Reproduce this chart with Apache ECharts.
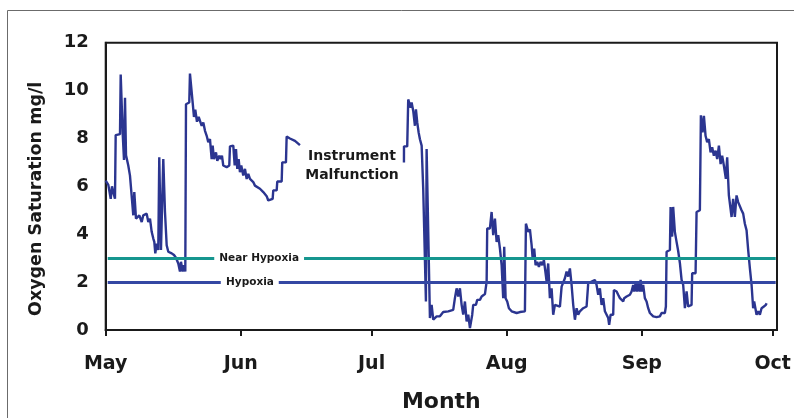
<!DOCTYPE html>
<html>
<head>
<meta charset="utf-8">
<script src="https://cdn.jsdelivr.net/npm/echarts@6/dist/echarts.min.js"></script>
<style>
html,body{margin:0;padding:0;background:#fff;}
#chart{width:794px;height:418px;}
</style>
</head>
<body>
<div id="chart"></div>
<script>
// Days since May 1 (null = gap, instrument malfunction)
const days = [
0,0.6,1.15,1.44,1.74,2.13,2.29,3.28,3.44,3.9,4.2,4.43,4.66,5.18,5.57,5.96,6.33,6.56,6.95,7.34,7.71,8.26,8.62,9.4,9.77,10.16,10.55,10.92,11.15,11.38,11.7,12.06,12.29,12.68,13.21,13.6,13.99,14.36,15.14,15.67,16.12,16.65,17.04,17.27,17.66,17.96,18.26,18.42,19.17,19.33,19.95,20.25,20.55,20.94,21.33,
21.63,22.02,22.39,22.78,23.17,23.53,23.92,24.31,24.54,24.84,25.3,25.6,26.06,26.38,26.67,26.97,27.36,27.75,28.35,28.51,29.27,29.59,29.89,30.18,30.5,30.8,31.1,31.56,31.95,32.34,32.71,33.1,33.85,34.24,34.63,35.39,36.15,36.93,37.29,37.68,38.3,38.44,39.22,39.36,40.37,40.5,41.35,41.51,42.27,42.66,43.42,44.56,
45,
68.42,68.43,69.17,69.4,69.63,69.95,70.18,70.55,70.94,71.17,71.47,71.79,72.09,72.48,72.84,73.46,73.62,74.38,74.77,75.14,75.92,76.28,76.67,77.06,77.43,78.58,78.97,79.72,80.11,80.5,80.87,81.26,81.65,82.02,82.41,82.8,83.17,83.56,83.78,84.08,84.31,84.93,85.23,85.85,86.24,87.0,87.39,87.52,88.14,88.53,88.9,89.29,89.68,90.05,90.44,90.83,91.19,91.42,91.74,92.11,92.5,93.12,94.27,95.02,96.17,96.4,96.93,97.32,97.71,97.94,98.3,98.62,98.99,99.38,99.77,100.14,100.53,101.15,101.51,101.9,102.29,102.66,103.05,103.44,104.2,104.59,104.95,105.34,105.73,106.1,106.49,106.88,107.25,107.64,108.03,108.39,108.78,109.54,110.32,110.69,111.47,112.22,112.61,112.98,113.37,113.76,114.13,114.52,114.91,115.28,115.5,115.83,116.42,116.58,117.2,117.57,117.96,118.35,118.72,118.94,119.5,119.86,120.25,120.64,121.01,121.24,121.56,121.86,122.16,122.48,122.71,123.01,123.3,123.69,124.08,124.45,124.84,125.6,126.38,127.13,127.52,128.28,128.51,128.67,129.04,129.43,129.59,129.95,130.18,130.57,130.96,131.33,131.72,132.11,132.48,132.87,133.26,133.62,134.4,134.54,135.32,135.55,136.31,136.54,136.93,137.23,137.61,137.98,138.37,138.76,139.13,139.52,139.91,140.28,140.67,141.06,141.42,141.81,142.27,142.57,142.96,143.35,143.58,143.94,144.33,144.72,145.09,145.48,145.87,146.24,146.63,147.02,147.39,147.78,148.17,148.53,148.76,149.31,149.68,150.07,150.46,150.99,151.45,151.61
];
// Dissolved oxygen, mg/l
const oxygen = [
6.24,6.06,5.48,6.0,5.76,5.48,8.14,8.18,10.67,8.2,7.1,9.7,7.3,6.87,6.45,6.52,4.79,5.76,4.65,4.58,4.79,4.51,4.79,4.86,4.51,4.65,4.1,3.82,3.68,3.2,3.61,3.34,7.21,3.34,7.14,4.93,3.54,3.27,3.2,3.13,3.02,2.78,2.44,2.85,2.44,2.71,2.44,9.43,9.5,10.71,9.5,8.9,9.2,8.7,8.9,
8.87,8.53,8.67,8.32,8.11,7.84,7.97,7.14,7.7,7.14,7.42,7.07,7.28,7.14,7.28,6.87,6.93,6.8,6.87,7.67,7.7,6.87,7.56,6.73,7.14,6.59,6.87,6.45,6.73,6.31,6.52,6.31,6.18,6.03,6.1,5.9,5.76,5.59,5.41,5.48,5.48,5.83,5.83,6.2,6.2,7.0,7.0,8.08,8.0,8.08,7.9,7.72,
null,
7.0,7.67,7.67,9.63,9.63,9.29,9.5,9.15,8.53,9.22,8.67,8.25,7.97,7.7,5.9,1.19,7.56,0.5,1.05,0.43,0.57,0.5,0.57,0.5,0.75,0.78,0.84,0.84,1.33,1.74,1.4,1.74,1.05,0.64,1.19,0.36,0.64,0.08,0.08,0.64,1.05,1.05,1.26,1.26,1.4,1.5,2.02,4.24,4.24,4.93,3.96,4.65,3.68,3.96,3.4,2.71,1.33,3.48,1.33,1.19,0.91,0.78,0.71,0.75,0.78,4.44,4.1,4.2,3.54,2.99,3.4,2.71,2.85,2.64,2.85,2.71,2.92,2.02,2.78,1.33,1.74,0.64,1.05,0.98,0.98,1.81,1.81,2.16,2.44,2.23,2.57,1.88,1.05,0.43,0.91,0.64,0.78,0.91,0.98,1.95,2.02,2.09,1.88,1.47,1.74,1.05,1.33,0.78,0.84,0.5,0.22,0.64,0.64,1.67,1.61,1.47,1.33,1.33,1.19,1.33,1.4,1.47,1.47,1.61,1.88,1.61,1.95,1.61,1.95,1.61,2.09,1.61,1.88,1.33,1.19,0.91,0.71,0.57,0.54,0.57,0.71,0.71,0.98,3.27,3.34,3.34,5.14,3.9,5.14,4.1,3.68,3.3,2.8,2.09,1.88,0.91,1.61,0.98,1.05,2.37,2.37,4.93,5.0,8.97,8.25,8.94,8.11,7.84,7.97,7.42,7.63,7.28,7.49,7.14,7.7,6.93,7.28,6.87,6.31,7.21,5.62,5.55,4.72,5.48,4.72,5.62,5.34,5.27,5.0,4.86,4.44,4.16,3.34,2.57,1.88,0.91,1.19,0.64,0.78,0.64,0.91,0.98,1.05,1.12
];
const monthTicks = [0, 31, 61, 92, 123, 153];
const monthLabels = ['May', 'Jun', 'Jul', 'Aug', 'Sep', 'Oct'];
const hypoxiaLevel = 2;
const nearHypoxiaLevel = 3;
// Reference line segments (day ranges) and label anchor days
const nearHypoxiaSegments = [[0.46, 24.9], [45.5, 153.7]];
const hypoxiaSegments = [[0.46, 26.4], [39.7, 153.7]];
const nearHypoxiaLabelDay = 35.2;
const hypoxiaLabelDay = 33.1;
const malfunctionLabel = { day: 56.5, value: 6.85, text: 'Instrument\nMalfunction' };

const seriesData = days.map((d, i) => [d, oxygen[i] === null ? '-' : oxygen[i]]);
const FONT = '"DejaVu Sans", Verdana, sans-serif';

const chart = echarts.init(document.getElementById('chart'), null, { renderer: 'canvas' });
chart.setOption({
  animation: false,
  backgroundColor: '#ffffff',
  graphic: [{
    type: 'rect', silent: true,
    shape: { x: 7.5, y: 10.5, width: 800, height: 420 },
    style: { fill: 'none', stroke: '#6b6b6b', lineWidth: 1 }
  }],
  grid: { left: 105.7, right: 17, top: 42.7, bottom: 86, show: true, borderColor: '#1a1a1a', borderWidth: 2, backgroundColor: 'transparent' },
  xAxis: {
    type: 'value', min: 0, max: 154,
    name: 'Month', nameLocation: 'middle', nameGap: 61,
    nameTextStyle: { fontFamily: FONT, fontWeight: 'bold', fontSize: 22, color: '#1a1a1a' },
    axisLine: { show: true, lineStyle: { color: '#1a1a1a', width: 2 } },
    axisTick: { show: true, customValues: monthTicks, length: 6, lineStyle: { color: '#1a1a1a', width: 2 } },
    axisLabel: {
      customValues: monthTicks, margin: 25,
      fontFamily: FONT, fontWeight: 'bold', fontSize: 19, color: '#1a1a1a',
      formatter: v => monthLabels[monthTicks.indexOf(Math.round(v))] || ''
    },
    splitLine: { show: false }
  },
  yAxis: {
    type: 'value', min: 0, max: 12, interval: 2,
    name: 'Oxygen Saturation mg/l', nameLocation: 'middle', nameGap: 60,
    nameTextStyle: { fontFamily: FONT, fontWeight: 'bold', fontSize: 17.5, color: '#1a1a1a', padding: [0, 25, 0, 0] },
    axisLine: { show: true, lineStyle: { color: '#1a1a1a', width: 2 } },
    axisTick: { show: false },
    axisLabel: { margin: 17, fontFamily: FONT, fontWeight: 'bold', fontSize: 18, color: '#1a1a1a' },
    splitLine: { show: false }
  },
  series: [{
    type: 'line',
    data: seriesData,
    showSymbol: false,
    connectNulls: false,
    lineStyle: { color: '#2b3590', width: 2.4 },
    z: 3,
    markLine: {
      silent: true, symbol: 'none', animation: false,
      label: { show: false },
      data: [
        ...nearHypoxiaSegments.map(s => [
          { coord: [s[0], nearHypoxiaLevel], lineStyle: { color: '#16968f', width: 3, type: 'solid' } },
          { coord: [s[1], nearHypoxiaLevel] }
        ]),
        ...hypoxiaSegments.map(s => [
          { coord: [s[0], hypoxiaLevel], lineStyle: { color: '#3447a3', width: 3, type: 'solid' } },
          { coord: [s[1], hypoxiaLevel] }
        ])
      ]
    },
    markPoint: {
      silent: true, symbol: 'circle', symbolSize: 0, animation: false,
      label: { show: true, position: 'inside', fontFamily: FONT, fontWeight: 'bold', color: '#1a1a1a' },
      data: [
        { coord: [nearHypoxiaLabelDay, nearHypoxiaLevel], label: { formatter: 'Near Hypoxia', fontSize: 10.5 } },
        { coord: [hypoxiaLabelDay, hypoxiaLevel], label: { formatter: 'Hypoxia', fontSize: 10.5 } },
        { coord: [malfunctionLabel.day, malfunctionLabel.value], label: { formatter: malfunctionLabel.text, fontSize: 14, lineHeight: 19, align: 'center' } }
      ]
    }
  }]
});
</script>
</body>
</html>
